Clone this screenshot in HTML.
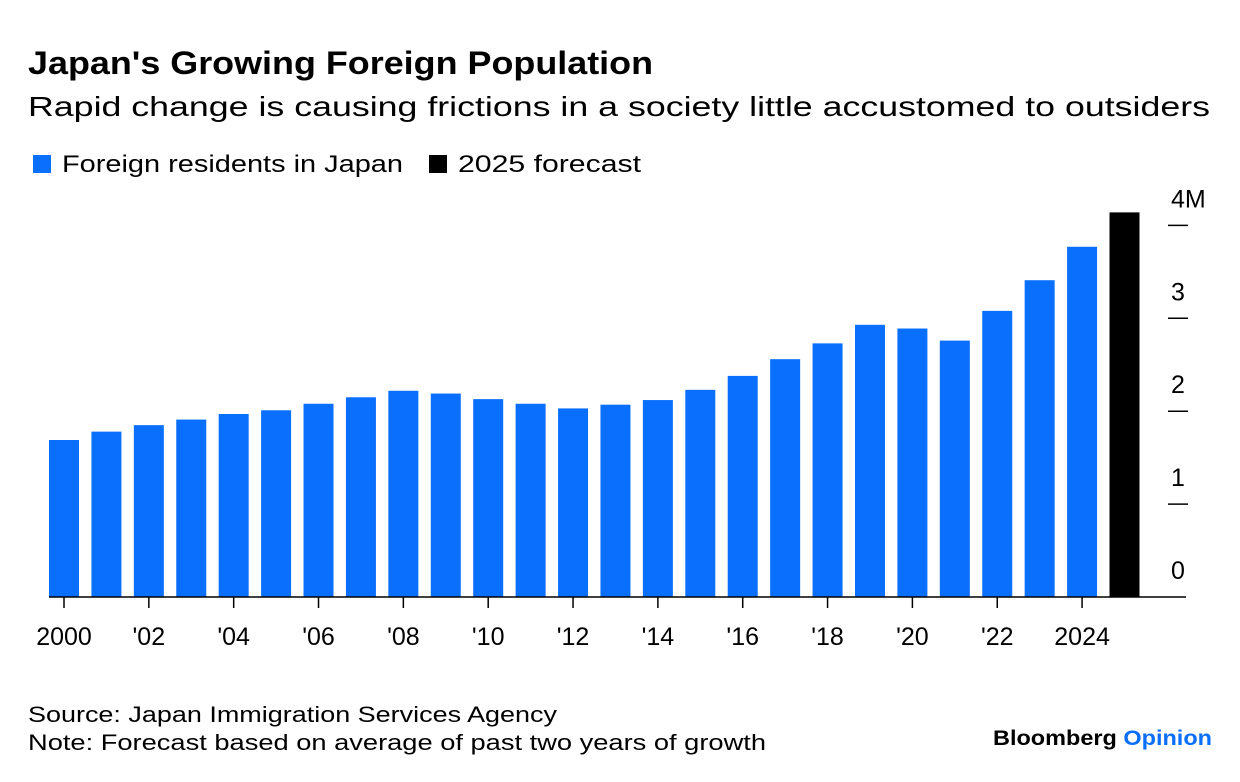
<!DOCTYPE html>
<html><head><meta charset="utf-8"><style>
html,body{margin:0;padding:0;background:#fff}
svg{display:block;font-family:"Liberation Sans",sans-serif}
</style></head><body>
<svg id="chart" width="1240" height="782" viewBox="0 0 1240 782">
<text x="28" y="74" font-size="32" font-weight="bold" textLength="625" lengthAdjust="spacingAndGlyphs">Japan's Growing Foreign Population</text>
<text x="28" y="116" font-size="28" textLength="1182" lengthAdjust="spacingAndGlyphs">Rapid change is causing frictions in a society little accustomed to outsiders</text>
<g>
<rect x="33" y="155" width="18" height="18" fill="#0a6ffd"/>
<text x="62" y="172" font-size="24" textLength="341" lengthAdjust="spacingAndGlyphs">Foreign residents in Japan</text>
<rect x="429" y="155" width="18" height="18" fill="#000"/>
<text x="458" y="172" font-size="24" textLength="183" lengthAdjust="spacingAndGlyphs">2025 forecast</text>
</g>
<g id="plot"></g>
<text x="28" y="722" font-size="22" textLength="529" lengthAdjust="spacingAndGlyphs">Source: Japan Immigration Services Agency</text>
<text x="28" y="750" font-size="22" textLength="738" lengthAdjust="spacingAndGlyphs">Note: Forecast based on average of past two years of growth</text>
<text x="993" y="745" font-size="21" font-weight="bold" textLength="219" lengthAdjust="spacingAndGlyphs"><tspan fill="#000">Bloomberg </tspan><tspan fill="#0a6ffd">Opinion</tspan></text>
</svg>
<script>
const years = [2000,2001,2002,2003,2004,2005,2006,2007,2008,2009,2010,2011,2012,2013,2014,2015,2016,2017,2018,2019,2020,2021,2022,2023,2024,2025];
const residents = [1.69,1.78,1.85,1.91,1.97,2.01,2.08,2.15,2.22,2.19,2.13,2.08,2.03,2.07,2.12,2.23,2.38,2.56,2.73,2.93,2.89,2.76,3.08,3.41,3.77,4.14];
const forecastYear = 2025;
const yTicks = [0,1,2,3,4];
const yTickLabels = ["0","1","2","3","4M"];
const xTickYears = [2000,2002,2004,2006,2008,2010,2012,2014,2016,2018,2020,2022,2024];
const xTickLabels = ["2000","'02","'04","'06","'08","'10","'12","'14","'16","'18","'20","'22","2024"];

const NS="http://www.w3.org/2000/svg";
const g=document.getElementById('plot');
const xS=yr=>64+(yr-2000)*42.42;
const yS=v=>597-v*92.9;
function mk(t,a){const e=document.createElementNS(NS,t);for(const k in a)e.setAttribute(k,a[k]);g.appendChild(e);return e;}
years.forEach((yr,i)=>{
  const r=mk('rect',{x:xS(yr)-15,y:yS(residents[i]),width:30,height:yS(0)-yS(residents[i]),fill:yr===forecastYear?'#000':'#0a6ffd'});
  
  
});
yTicks.forEach((v,i)=>{
  if(v>0){
    const l=mk('line',{x1:1168,x2:1188,y1:yS(v),y2:yS(v),stroke:'#000','stroke-width':1.5});
    
    
  }
  const t=mk('text',{x:1171,y:yS(v)-18,'font-size':25});
  t.textContent=yTickLabels[i];
  
  
});
const ax=mk('line',{x1:49,x2:1186,y1:597,y2:597,stroke:'#000','stroke-width':1.5});


xTickYears.forEach((yr,i)=>{
  const l=mk('line',{x1:xS(yr),x2:xS(yr),y1:597,y2:608,stroke:'#000','stroke-width':1.5});
  
  
  const t=mk('text',{x:xS(yr),y:645,'font-size':25,'text-anchor':'middle'});
  t.textContent=xTickLabels[i];
  
  
});
</script>
</body></html>
